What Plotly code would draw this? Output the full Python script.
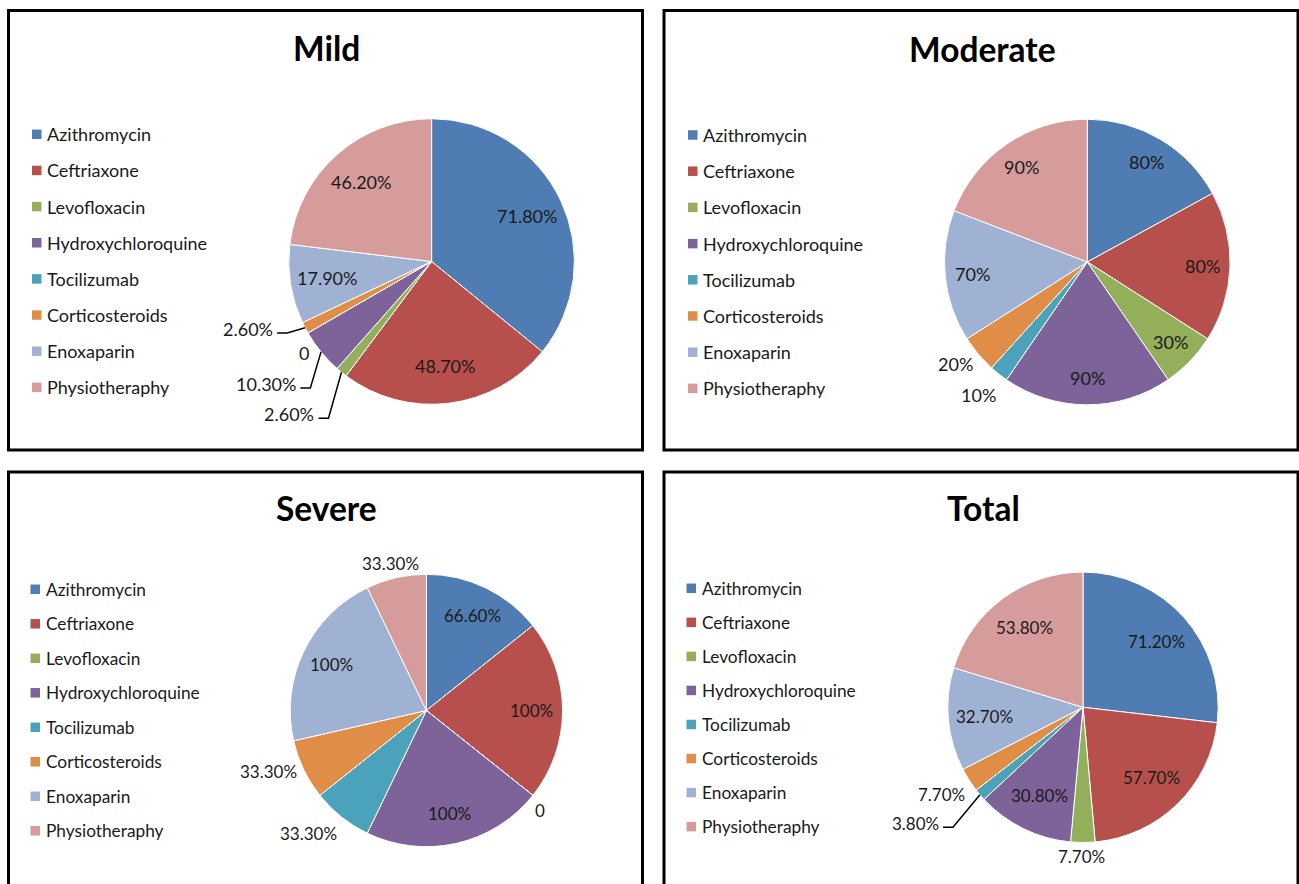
import math
import plotly.graph_objects as go

W, H = 1299, 884

# ---- data -------------------------------------------------------------
drugs = ["Azithromycin", "Ceftriaxone", "Levofloxacin", "Hydroxychloroquine",
         "Tocilizumab", "Corticosteroids", "Enoxaparin", "Physiotheraphy"]
mild = [71.8, 48.7, 2.6, 10.3, 0, 2.6, 17.9, 46.2]
moderate = [80, 80, 30, 90, 10, 20, 70, 90]
severe = [66.6, 100, 0, 100, 33.3, 33.3, 100, 33.3]
total = [71.2, 57.7, 7.7, 30.8, 3.8, 7.7, 32.7, 53.8]

colors = ["#4F7DB3", "#B7504D", "#93AF5A", "#7D6399",
          "#4AA3BA", "#E08D48", "#A0B2D4", "#D69C9B"]

TEXT = "#1a1a1a"
FONT = "Lato"


def fmt(v):
    if v == 0:
        return "0"
    if float(v).is_integer():
        return f"{int(v)}%"
    return f"{v:.2f}%"


# ---- panel layout (pixel units) ---------------------------------------
panels = [
    dict(title="Mild", values=mild, cx=431.6, cy=261.5, r=142.8,
         box=(8.5, 10.5, 642.5, 450), title_xy=(326, 48), title_size=33.5,
         leg_x=32, leg_y0=134.3, leg_dy=36.15, leg_size=18,
         lab_size=18, frac=0.74,
         outside={2: ("leader", -23, 46), 3: ("leader", -20.7, 36),
                  4: ("free", -4, 20), 5: ("leader", -28, 5.3)}),
    dict(title="Moderate", values=moderate, cx=1087.3, cy=262, r=142.8,
         box=(664, 10.5, 1298, 450), title_xy=(982, 49), title_size=33.5,
         leg_x=688, leg_y0=135, leg_dy=36.2, leg_size=18,
         lab_size=18, frac=0.81,
         outside={4: ("free", -20, 20.5), 5: ("free", -23, 10)}),
    dict(title="Severe", values=severe, cx=426.4, cy=710.5, r=136.2,
         box=(8.5, 472, 642.5, 900), title_xy=(326, 508), title_size=33.5,
         leg_x=30.5, leg_y0=589.3, leg_dy=34.5, leg_size=17.3,
         lab_size=17, frac=0.775,
         outside={2: ("free", 7, 15), 4: ("free", -32.5, 17),
                  5: ("free", -35, 1.6), 7: ("free", -6, -14.5)}),
    dict(title="Total", values=total, cx=1083, cy=707.3, r=135.2,
         box=(664, 472, 1298, 900), title_xy=(983, 508), title_size=33.5,
         leg_x=686.5, leg_y0=588.3, leg_dy=34.05, leg_size=17.3,
         lab_size=17, frac=0.73,
         outside={2: ("free", -1, 14.5), 4: ("leader", -37, 32.5),
                  5: ("free", -28, 14)}),
]


def px(x):
    return x / W


def py(y):
    return 1 - y / H


fig = go.Figure()
shapes = []
annotations = []

for p in panels:
    vals = p["values"]
    cx, cy, r = p["cx"], p["cy"], p["r"]

    fig.add_trace(go.Pie(
        labels=drugs, values=vals, sort=False, direction="clockwise",
        rotation=0, textinfo="none", showlegend=False,
        marker=dict(colors=colors, line=dict(color="white", width=1)),
        domain=dict(x=[px(cx - r), px(cx + r)], y=[py(cy + r), py(cy - r)]),
        hovertemplate="%{label}: %{value}<extra>" + p["title"] + "</extra>",
    ))

    # panel frame
    x0, y0, x1, y1 = p["box"]
    shapes.append(dict(type="rect", xref="paper", yref="paper",
                       x0=px(x0), x1=px(x1), y0=py(y1), y1=py(y0),
                       line=dict(color="black", width=3)))

    # title
    tx, ty = p["title_xy"]
    annotations.append(dict(text=f"<b>{p['title']}</b>", x=px(tx), y=py(ty),
                            xref="paper", yref="paper", showarrow=False,
                            xanchor="center", yanchor="middle",
                            font=dict(family=FONT, size=p["title_size"], color="black")))

    # legend
    for i, name in enumerate(drugs):
        yy = p["leg_y0"] + i * p["leg_dy"]
        shapes.append(dict(type="rect", xref="paper", yref="paper",
                           x0=px(p["leg_x"]), x1=px(p["leg_x"] + 9.5),
                           y0=py(yy + 4.75), y1=py(yy - 4.75),
                           fillcolor=colors[i], line=dict(width=0)))
        annotations.append(dict(text=name, x=px(p["leg_x"] + 13), y=py(yy),
                                xref="paper", yref="paper", showarrow=False,
                                xanchor="left", yanchor="middle",
                                font=dict(family=FONT, size=p["leg_size"], color=TEXT)))

    # data labels, positioned from each slice's angle
    tot = sum(vals)
    cum = 0.0
    for i, v in enumerate(vals):
        mid = math.radians((cum + v / 2) / tot * 360)
        cum += v
        sx, sy = math.sin(mid), -math.cos(mid)
        label = fmt(v)
        fnt = dict(family=FONT, size=p["lab_size"], color=TEXT)
        if i in p["outside"]:
            kind, dx, dy = p["outside"][i]
            rx, ry = cx + r * sx, cy + r * sy
            if kind == "free":
                annotations.append(dict(text=label, x=px(rx + dx), y=py(ry + dy),
                                        xref="paper", yref="paper", showarrow=False,
                                        xanchor="center", yanchor="middle", font=fnt))
            else:
                lx, ly = rx + dx, ry + dy
                shapes.append(dict(type="path", xref="paper", yref="paper",
                                   path=f"M {px(lx)} {py(ly)} L {px(lx + 10)} {py(ly)} "
                                        f"L {px(rx)} {py(ry)}",
                                   line=dict(color="black", width=1.5)))
                annotations.append(dict(text=label, x=px(lx - 2), y=py(ly - 4),
                                        xref="paper", yref="paper", showarrow=False,
                                        xanchor="right", yanchor="middle", font=fnt))
        else:
            f = p["frac"] * r
            annotations.append(dict(text=label, x=px(cx + f * sx), y=py(cy + f * sy),
                                    xref="paper", yref="paper", showarrow=False,
                                    xanchor="center", yanchor="middle", font=fnt))

fig.update_layout(
    width=W, height=H,
    margin=dict(l=0, r=0, t=0, b=0),
    paper_bgcolor="white", plot_bgcolor="white",
    shapes=shapes, annotations=annotations,
    font=dict(family=FONT),
)

fig.write_html("out.html")
